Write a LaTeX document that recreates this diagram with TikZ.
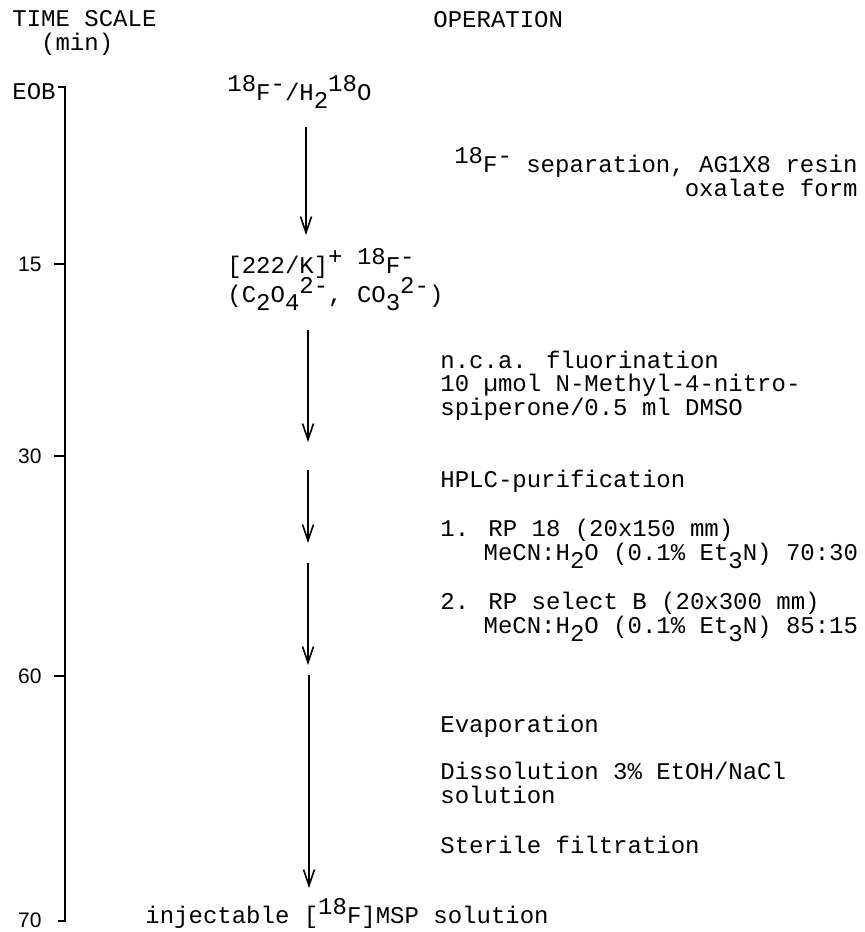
\documentclass[tikz,border=0pt]{standalone}
\usepackage{fontspec}
\newfontfamily\tw{Liberation Mono}
\newfontfamily\ax{Liberation Sans}
\usetikzlibrary{arrows.meta}
\newcommand{\isoup}[1]{\raisebox{4.5pt}{#1}}
\newcommand{\isodn}[1]{\raisebox{-4pt}{#1}}
\newcommand{\twfont}{\tw\fontsize{12}{11.75}\selectfont\lineskiplimit=-100pt\relax}

\begin{document}
\begin{tikzpicture}[x=0.5pt, y=-0.5pt,
  every node/.style={font=\twfont, inner sep=0pt, anchor=base west, align=left},
  tick/.style={font=\ax\fontsize{10.5}{12}\selectfont, anchor=east},
  flow/.style={-{Straight Barb[length=8pt,width=5.5pt]}, line width=0.8pt}]
\useasboundingbox (0,0) rectangle (864,932);

% headings (multi-line nodes sit on their last baseline)
\node (head) at (12,50) {TIME SCALE\\\hspace*{14.4pt}(min)};
\node (op) at (433,27) {OPERATION};

% time axis
\node (eob) at (12,99) {EOB};
\draw[line width=1pt] (58,87) -- (65,87) -- (65,921) -- (58,921);
\foreach \t/\y in {15/264, 30/456, 60/676} {
  \draw[line width=1pt] (54,\y) -- (65,\y);
  \node[tick] (m\t) at (42,\y) {\t};
}
\node[tick] (m70) at (42,920) {70};

% species
\node (src) at (227,100) {\isoup{18}F\isoup{-}/H\isodn{2}\isoup{18}O};
\node (kf) at (227,273) {[222/K]\isoup{+} \isoup{18}F\isoup{-}};
\node (anion) at (227,302) {(C\isodn{2}O\isodn{4}\isoup{2-}, CO\isodn{3}\isoup{2-})};
\node (prod) at (145,923) {injectable [\isoup{18}F]MSP solution};

% operations
\node[anchor=base east] (sep) at (858,172) {\isoup{18}F\isoup{-} separation, AG1X8 resin};
\node[anchor=base east] (oxa) at (858,196) {oxalate form};
\node (fluor) at (440,415) {n.c.a. fluorination\\10 µmol N-Methyl-4-nitro-\\spiperone/0.5 ml DMSO};
\node (hplc) at (440,487) {HPLC-purification};
\node (col1) at (440,560) {1. RP 18 (20x150 mm)\\\hspace*{21.6pt}MeCN:H\isodn{2}O (0.1\% Et\isodn{3}N) 70:30};
\node (col2) at (440,633) {2. RP select B (20x300 mm)\\\hspace*{21.6pt}MeCN:H\isodn{2}O (0.1\% Et\isodn{3}N) 85:15};
\node (evap) at (440,732) {Evaporation};
\node (diss) at (440,803) {Dissolution 3\% EtOH/NaCl\\solution};
\node (filt) at (440,853) {Sterile filtration};

% arrows
\coordinate (a1) at (306,127); \coordinate (b1) at (306,235);
\coordinate (a2) at (308,330); \coordinate (b2) at (308,442);
\coordinate (a3) at (308,470); \coordinate (b3) at (308,543);
\coordinate (a4) at (308,563); \coordinate (b4) at (308,665);
\coordinate (a5) at (309,675); \coordinate (b5) at (309,888);
\foreach \i in {1,...,5}
  \draw[flow] (a\i) -- (b\i);
\end{tikzpicture}
\end{document}
